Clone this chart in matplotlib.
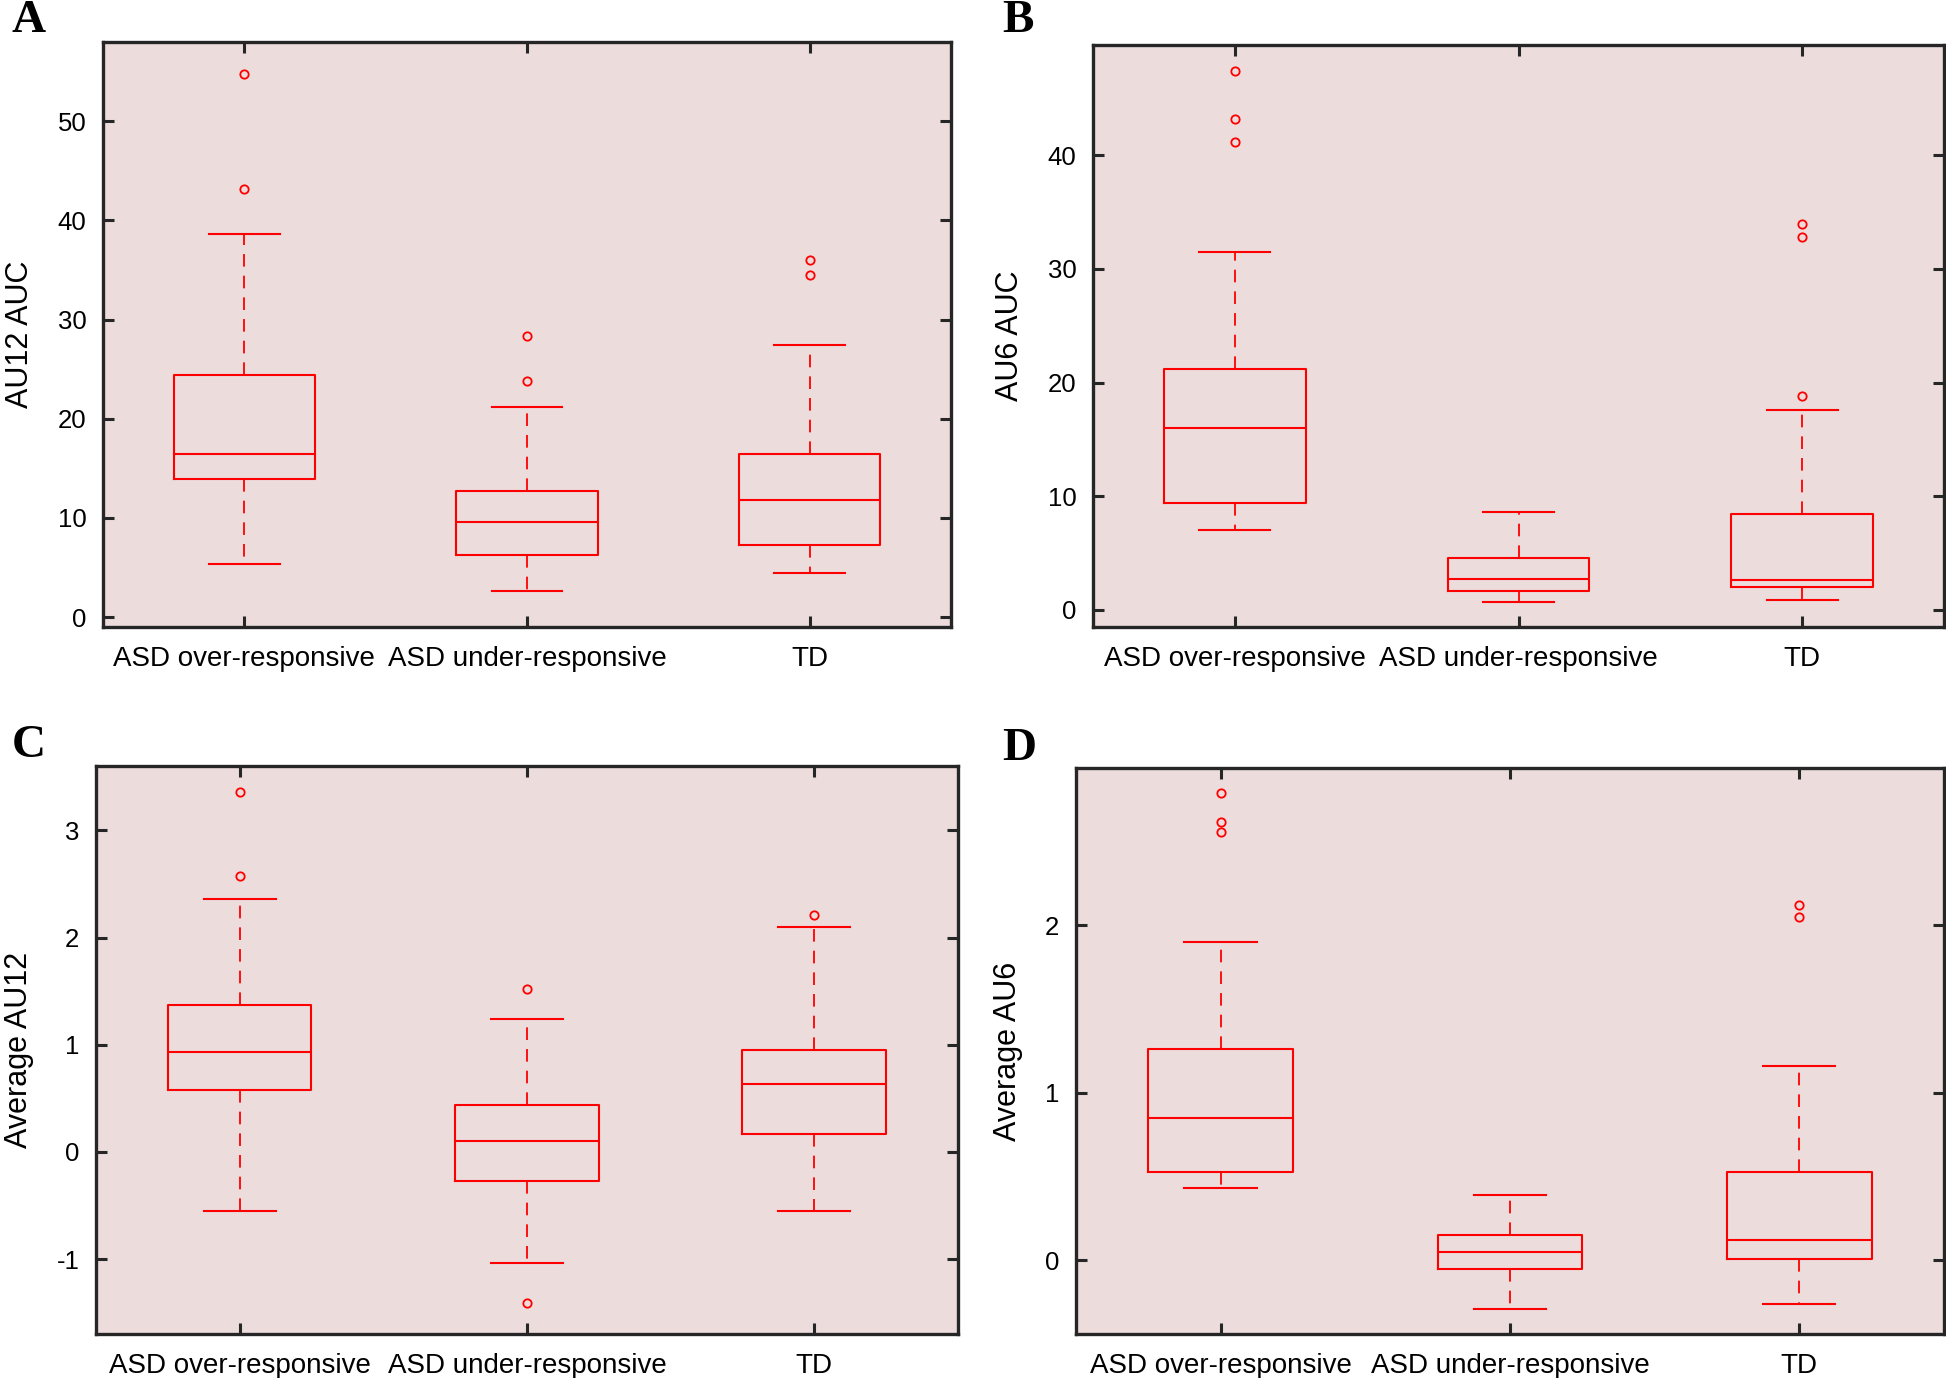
import matplotlib
matplotlib.use('Agg')
import matplotlib.pyplot as plt

# ==================================================================
# data: per group [whislo, q1, med, q3, whishi] + outliers

groups = ['ASD over-responsive', 'ASD under-responsive', 'TD']

au12_auc = [[5.4, 13.9, 16.4, 24.4, 38.6],
            [2.6, 6.3, 9.6, 12.7, 21.2],
            [4.4, 7.3, 11.8, 16.4, 27.4]]
au12_auc_fliers = [[54.8, 43.2], [28.3, 23.8], [36.0, 34.5]]

au6_auc = [[7.0, 9.4, 16.0, 21.2, 31.5],
           [0.7, 1.7, 2.7, 4.6, 8.6],
           [0.9, 2.0, 2.6, 8.4, 17.6]]
au6_auc_fliers = [[47.4, 43.2, 41.2], [], [34.0, 32.8, 18.8]]

avg_au12 = [[-0.55, 0.58, 0.93, 1.37, 2.36],
            [-1.04, -0.27, 0.10, 0.44, 1.24],
            [-0.55, 0.17, 0.63, 0.95, 2.10]]
avg_au12_fliers = [[3.36, 2.57], [1.52, -1.41], [2.21]]

avg_au6 = [[0.43, 0.53, 0.85, 1.26, 1.90],
           [-0.29, -0.05, 0.05, 0.15, 0.39],
           [-0.26, 0.01, 0.12, 0.53, 1.16]]
avg_au6_fliers = [[2.79, 2.62, 2.56], [], [2.12, 2.05]]

# ==================================================================

RED = '#ff0000'
BG = '#ecdcdc'
FRAME = '#262626'


def make_stats(five, fliers):
    """
    转成 bxp 需要的格式
    """
    stats = []
    for f, fl in zip(five, fliers):
        stats.append(dict(whislo=f[0], q1=f[1], med=f[2], q3=f[3], whishi=f[4],
                          fliers=fl))
    return stats


def draw_panel(ax, five, fliers, ylabel, ylim, yticks, letter, lx, ly):
    ax.set_facecolor(BG)
    ax.bxp(make_stats(five, fliers), positions=[1, 2, 3], widths=0.5,
           showfliers=True,
           boxprops=dict(color=RED, linewidth=1.5),
           medianprops=dict(color=RED, linewidth=1.5),
           whiskerprops=dict(color=RED, linewidth=1.3, linestyle=(0, (7, 5))),
           capprops=dict(color=RED, linewidth=1.5),
           flierprops=dict(marker='o', markerfacecolor='none',
                           markeredgecolor=RED, markersize=6,
                           markeredgewidth=1.3))
    ax.set_xlim(0.5, 3.5)
    ax.set_ylim(*ylim)
    ax.set_yticks(yticks)
    ax.set_xticks([1, 2, 3])
    ax.set_xticklabels(groups)
    ax.tick_params(direction='in', length=8, width=2.2, color=FRAME,
                   labelsize=18.5, top=True, right=True, pad=12)
    ax.tick_params(axis='x', labelsize=20, pad=14)
    for s in ax.spines.values():
        s.set_linewidth(2.4)
        s.set_color(FRAME)
    ax.set_ylabel(ylabel, fontsize=22, labelpad=16)
    fig.text(lx, ly, letter, fontsize=34, fontweight='bold',
             family='Liberation Serif', va='top', ha='left')


plt.rcParams['font.family'] = ['Liberation Sans', 'DejaVu Sans']
plt.rcParams['axes.unicode_minus'] = False

fig = plt.figure(figsize=(19.46, 13.78), dpi=100)

axA = fig.add_axes([0.0529, 0.545, 0.4358, 0.4245])
axB = fig.add_axes([0.5617, 0.545, 0.4373, 0.4223])
axC = fig.add_axes([0.0493, 0.0319, 0.4430, 0.4122])
axD = fig.add_axes([0.5529, 0.0319, 0.4460, 0.4107])

draw_panel(axA, au12_auc, au12_auc_fliers, 'AU12 AUC', (-1, 58),
           [0, 10, 20, 30, 40, 50], 'A', 0.006, 1.0)
draw_panel(axB, au6_auc, au6_auc_fliers, 'AU6 AUC', (-1.5, 49.7),
           [0, 10, 20, 30, 40], 'B', 0.515, 1.0)
draw_panel(axC, avg_au12, avg_au12_fliers, 'Average AU12', (-1.7, 3.6),
           [-1, 0, 1, 2, 3], 'C', 0.006, 0.474)
draw_panel(axD, avg_au6, avg_au6_fliers, 'Average AU6', (-0.44, 2.94),
           [0, 1, 2], 'D', 0.515, 0.472)

fig.savefig('out.png', dpi=100)
